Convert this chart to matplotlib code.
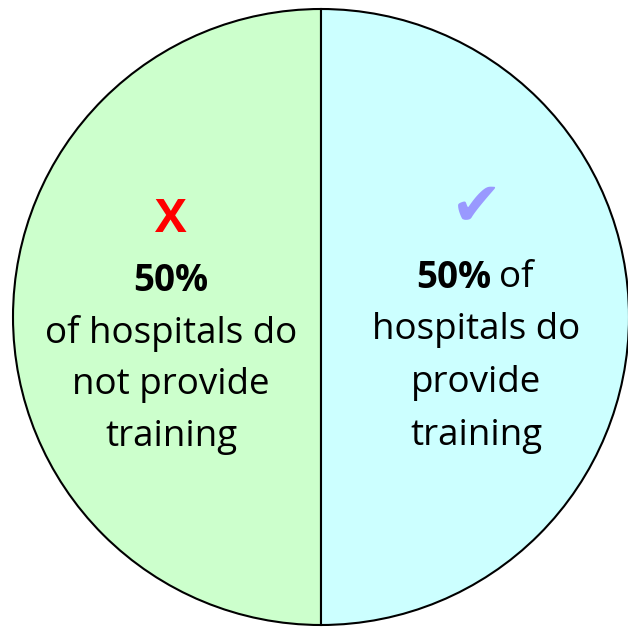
import matplotlib.pyplot as plt

shares = [50, 50]
labels = ['do not provide', 'do provide']
colors = ['#ccffcc', '#ccffff']

plt.rcParams['font.family'] = ['Open Sans', 'DejaVu Sans']

fig = plt.figure(figsize=(6.28, 6.28), dpi=100)
ax = fig.add_axes([0, 0, 1, 1])

ax.pie(shares, colors=colors, startangle=90, counterclock=True,
       center=(321, 317), radius=308, frame=True,
       wedgeprops=dict(edgecolor='black', linewidth=1.5))

ax.set_xlim(0, 628)
ax.set_ylim(628, 0)
ax.set_aspect('equal')
ax.axis('off')

fs = 26.5
# left half
ax.text(171, 220, 'X', color='#ff0000', fontsize=34, fontweight='bold',
        ha='center', va='center')
ax.text(171, 281, f'{shares[0]}%', fontsize=fs, fontweight='bold',
        ha='center', va='center')
ax.text(171, 333, 'of hospitals do', fontsize=fs, ha='center', va='center')
ax.text(171, 385, 'not provide', fontsize=fs, ha='center', va='center')
ax.text(171, 437, 'training', fontsize=fs, ha='center', va='center')

# right half
ax.text(477, 209, '\u2714', color='#9999ff', fontsize=44,
        ha='center', va='center', family='DejaVu Sans')
ax.text(491, 278, f'{shares[1]}%', fontsize=fs, fontweight='bold',
        ha='right', va='center')
ax.text(499, 278, 'of', fontsize=fs, ha='left', va='center')
ax.text(476, 330, 'hospitals do', fontsize=fs, ha='center', va='center')
ax.text(476, 383, 'provide', fontsize=fs, ha='center', va='center')
ax.text(476, 436, 'training', fontsize=fs, ha='center', va='center')

fig.savefig('out.png', dpi=100, facecolor='white')
